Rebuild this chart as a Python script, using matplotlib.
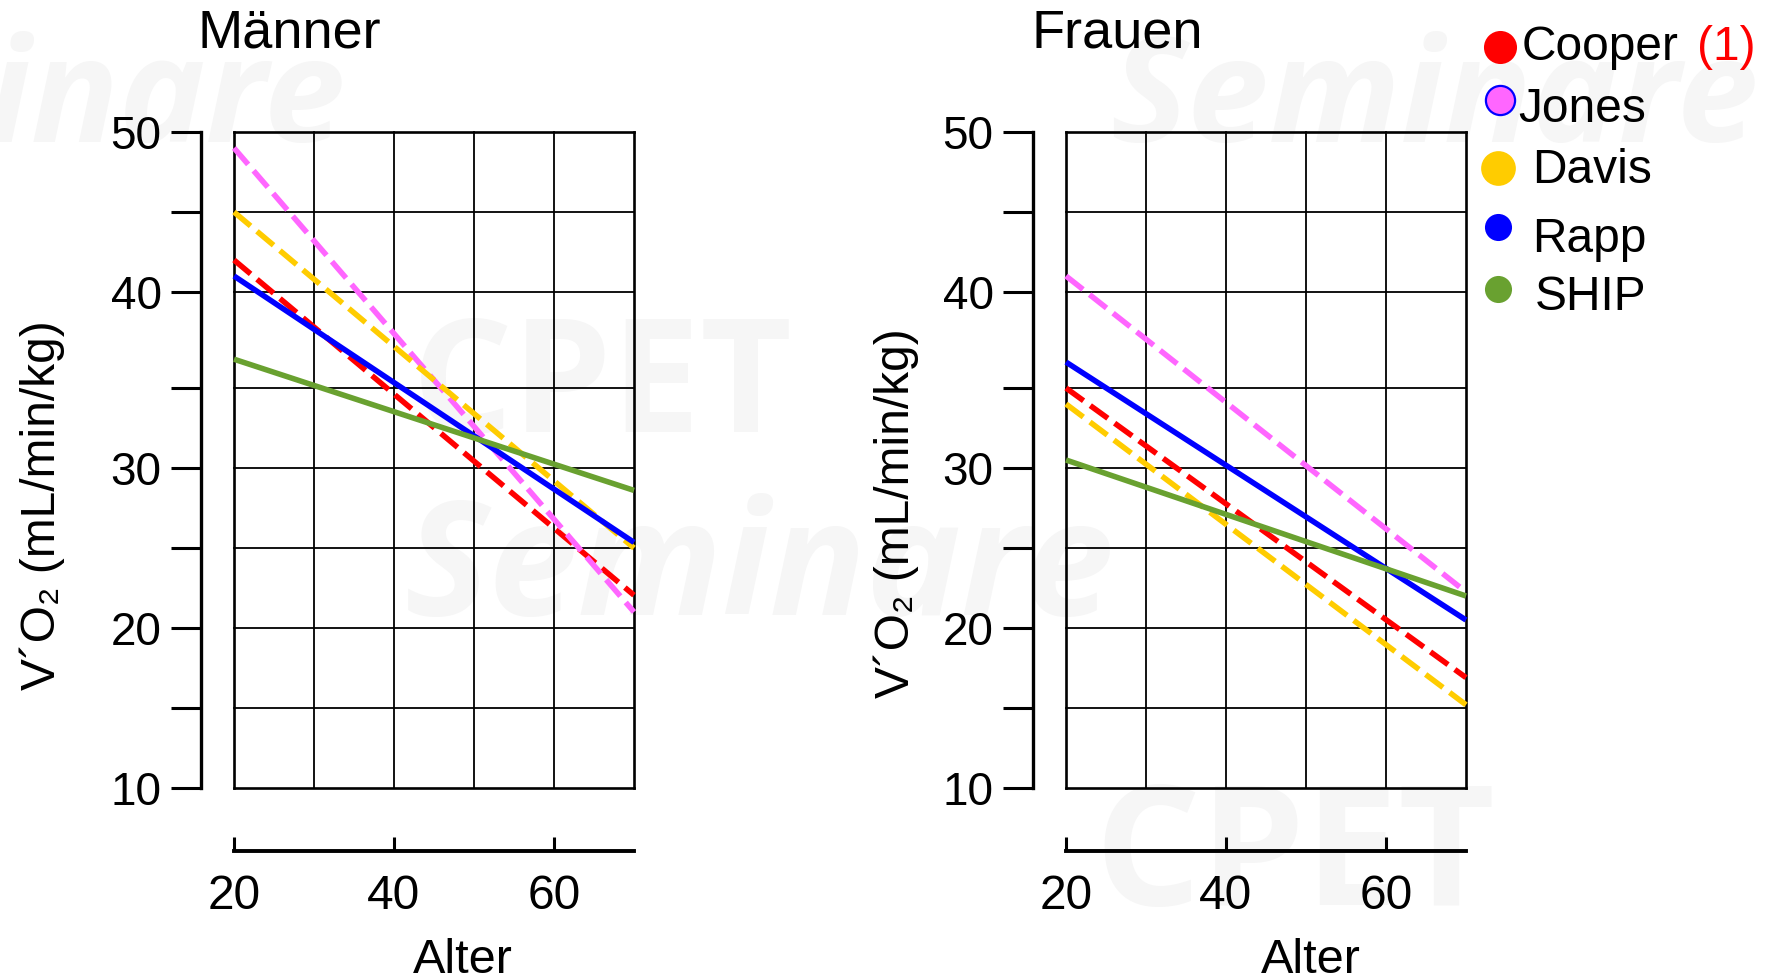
import numpy as np
import matplotlib
matplotlib.use("Agg")
import matplotlib.pyplot as plt
from matplotlib.ticker import FixedLocator, NullFormatter, NullLocator

plt.rcParams['font.family'] = ['Liberation Sans', 'DejaVu Sans']

alter = [20, 70]
studien = ['Cooper', 'Jones', 'Davis', 'Rapp', 'SHIP']

maenner_cooper = [42.0, 22.05]
maenner_jones = [49.0, 21.0]
maenner_davis = [45.0, 25.0]
maenner_rapp = [41.0, 25.35]
maenner_ship = [36.5, 28.6]

frauen_cooper = [35.0, 16.9]
frauen_jones = [41.0, 22.25]
frauen_davis = [34.0, 15.2]
frauen_rapp = [36.35, 20.5]
frauen_ship = [30.5, 22.0]

farben = ['#ff0000', '#ff66ff', '#ffcc00', '#0000ff', '#69a130']
gestrichelt = [True, True, True, False, False]

x_ticks = [20, 40, 60]
x_raster = [20, 30, 40, 50, 60, 70]
y_ticks = [10, 20, 30, 40, 50]
y_minor = [15, 25, 35, 45]

# im Original ist das Feld 35-40 etwas hoeher als die anderen
y_werte = [10, 15, 20, 25, 30, 35, 40, 45, 50]
y_hoehe = [0, 1, 2, 3, 4, 5, 6.2, 7.2, 8.2]


def hin(v):
    return np.interp(v, y_werte, y_hoehe)


def zurueck(h):
    return np.interp(h, y_hoehe, y_werte)


W, H = 1772, 980
fig = plt.figure(figsize=(W / 100, H / 100), dpi=100)


def box(x0, y0, x1, y1):
    return [x0 / W, 1 - y1 / H, (x1 - x0) / W, (y1 - y0) / H]


# ---- Wasserzeichen (sehr hell)
bg = fig.add_axes([0, 0, 1, 1])
bg.set_xlim(0, W)
bg.set_ylim(H, 0)
bg.axis('off')
wz = dict(color='#f6f6f6', family=['Open Sans', 'DejaVu Sans'], weight='bold')
bg.text(345, 142, 'Seminare', fontsize=105, ha='right', va='baseline', style='italic', **wz)
bg.text(1110, 142, 'Seminare', fontsize=105, ha='left', va='baseline', style='italic', **wz)
bg.text(412, 432, 'CPET', fontsize=114, ha='left', va='baseline', **wz)
bg.text(405, 615, 'Seminare', fontsize=115, ha='left', va='baseline', style='italic', **wz)
bg.text(1094, 905, 'CPET', fontsize=120, ha='left', va='baseline', **wz)


def panel(ax, reihen, alter_x):
    ax.set_facecolor('none')
    ax.set_yscale('function', functions=(hin, zurueck))
    ax.set_xlim(20, 70)
    ax.set_ylim(10, 50)

    # Raster
    for x in x_raster:
        lw = 1.9 if x in (20, 70) else 1.3
        ax.axvline(x, color='black', lw=lw, zorder=1, clip_on=False)
    for y in y_werte:
        lw = 1.9 if y in (10, 50) else 1.3
        ax.axhline(y, color='black', lw=lw, zorder=1, clip_on=False)

    for reihe, farbe, gestr in zip(reihen, farben, gestrichelt):
        if gestr:
            ax.plot(alter, reihe, color=farbe, lw=4.0, dashes=(3.9, 1.5),
                    zorder=3, clip_on=False)
        else:
            ax.plot(alter, reihe, color=farbe, lw=4.0, solid_capstyle='butt',
                    zorder=4, clip_on=False)

    ax.spines['top'].set_visible(False)
    ax.spines['right'].set_visible(False)
    ax.spines['left'].set_position(('outward', 24))
    ax.spines['left'].set_linewidth(2.4)
    ax.spines['bottom'].set_position(('outward', 45.4))
    ax.spines['bottom'].set_linewidth(2.8)

    ax.yaxis.set_major_locator(FixedLocator(y_ticks))
    ax.yaxis.set_minor_locator(FixedLocator(y_minor))
    ax.yaxis.set_minor_formatter(NullFormatter())
    ax.xaxis.set_major_locator(FixedLocator(x_ticks))
    ax.xaxis.set_minor_locator(NullLocator())
    ax.tick_params(axis='y', which='both', direction='out', length=21.6,
                   width=2.2, labelsize=33, pad=6.5)
    ax.tick_params(axis='x', which='major', direction='in', length=10,
                   width=2.2, labelsize=34.5, pad=16.5)

    ax.set_xlabel('Alter', fontsize=35)
    ax.xaxis.set_label_coords(alter_x, -0.229)


ax_m = fig.add_axes(box(234, 132, 634, 788))
panel(ax_m, [maenner_cooper, maenner_jones, maenner_davis, maenner_rapp, maenner_ship], 0.5725)

ax_f = fig.add_axes(box(1066, 132, 1466, 788))
panel(ax_f, [frauen_cooper, frauen_jones, frauen_davis, frauen_rapp, frauen_ship], 0.6125)

fig.text(197 / W, 1 - 48 / H, 'Männer', fontsize=39, ha='left', va='baseline')
fig.text(1031 / W, 1 - 48 / H, 'Frauen', fontsize=39, ha='left', va='baseline')

ylab = 'V\u00b4O\u2082 (mL/min/kg)'
fig.text(42 / W, 1 - 505 / H, ylab, fontsize=34.5, rotation=90, ha='center', va='center')
fig.text(896 / W, 1 - 513 / H, ylab, fontsize=34.5, rotation=90, ha='center', va='center')

# ---- Legende (frei gesetzt wie im Original)
leg = fig.add_axes([0, 0, 1, 1])
leg.set_xlim(0, W)
leg.set_ylim(H, 0)
leg.axis('off')
punkt_xy = [(1500, 47), (1500, 100), (1498, 168), (1498, 227), (1498, 289)]
punkt_gr = [23.8, 21, 25, 19.5, 19.5]
text_xy = [(1522, 60), (1518, 122), (1532, 183), (1532, 252), (1535, 310)]
for i, name in enumerate(studien):
    rand = '#0000ff' if name == 'Jones' else farben[i]
    leg.plot(*punkt_xy[i], 'o', ms=punkt_gr[i], mfc=farben[i], mec=rand,
             mew=1.6 if name == 'Jones' else 0)
    leg.text(*text_xy[i], name, fontsize=34.5, ha='left', va='baseline')
leg.text(1697, 60, '(1)', fontsize=34.5, color='#ff0000', ha='left', va='baseline')

fig.savefig('out.png', dpi=100)
